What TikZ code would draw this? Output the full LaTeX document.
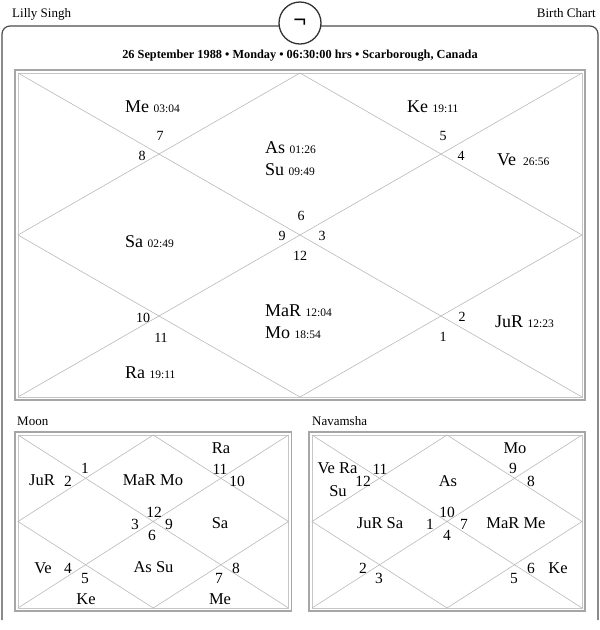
\documentclass[tikz,border=0pt]{standalone}
\usepackage{fontspec}
\setmainfont{Liberation Serif}
\usetikzlibrary{positioning}
\tikzset{
    kundli/.style={x=1pt,y=-1pt},
    frame/.style={draw=black!70, line width=1.2pt, rounded corners=8pt},
    boxout/.style={draw=gray!70, line width=1.2pt},
    boxin/.style={draw=gray!45, line width=0.8pt},
    grid/.style={draw=gray!55, line width=0.6pt},
    planet/.style={inner sep=0pt, anchor=west, align=left, font=\fontsize{18}{22}\selectfont},
    house/.style={inner sep=0pt, font=\fontsize{14}{14}\selectfont},
    splanet/.style={inner sep=0pt, font=\fontsize{16.5}{18}\selectfont},
    shouse/.style={inner sep=0pt, font=\fontsize{15.5}{16}\selectfont},
    caption/.style={inner sep=0pt, font=\fontsize{13}{13}\selectfont},
    }
\newcommand{\degtxt}[1]{{\fontsize{11.5}{11.5}\selectfont #1}}

\begin{document}
\begin{tikzpicture}[kundli]
    \useasboundingbox (0,0) rectangle (600,630);

    % outer frame and logo
    \draw[frame] (2,620) -- (2,26) -- (598,26) -- (598,620);
    \node[circle, draw=black!80, line width=1.3pt, fill=white, minimum size=42pt, inner sep=0pt] (logo) at (300,23) {\fontsize{23}{23}\selectfont\bfseries ¬};
    \node[caption, anchor=base west] (name) at (12,17.5) {Lilly Singh};
    \node[caption, anchor=base east] (title) at (596,17.5) {Birth Chart};
    \node[inner sep=0pt, anchor=base, font=\bfseries\fontsize{12.3}{13}\selectfont] (date) at (300,58) {26 September 1988 • Monday • 06:30:00 hrs • Scarborough, Canada};
    \node[caption, anchor=base west] (moon) at (17,425) {Moon};
    \node[caption, anchor=base west] (navamsha) at (312,425) {Navamsha};

    % the three charts
    \foreach \xa/\ya/\xb/\yb/\nm in {18/73/582/397/main, 18/435/288.5/608/mo, 312/435/582/608/nav} {
        \draw[boxout] (\xa-3,\ya-3) rectangle (\xb+3,\yb+3);
        \draw[boxin] (\xa,\ya) rectangle (\xb,\yb);
        \coordinate (\nm-nw) at (\xa,\ya);
        \coordinate (\nm-ne) at (\xb,\ya);
        \coordinate (\nm-se) at (\xb,\yb);
        \coordinate (\nm-sw) at (\xa,\yb);
        \coordinate (\nm-n) at ({(\xa+\xb)/2},\ya);
        \coordinate (\nm-s) at ({(\xa+\xb)/2},\yb);
        \coordinate (\nm-w) at (\xa,{(\ya+\yb)/2});
        \coordinate (\nm-e) at (\xb,{(\ya+\yb)/2});
        \draw[grid] (\nm-nw) -- (\nm-se) (\nm-ne) -- (\nm-sw);
        \draw[grid] (\nm-n) -- (\nm-e) -- (\nm-s) -- (\nm-w) -- cycle;
    }

    % birth chart
    \node[planet] (me) at (125,107) {Me \degtxt{03:04}};
    \node[planet] (ke) at (407,107) {Ke \degtxt{19:11}};
    \node[planet] (assu) at (265,159) {As \degtxt{01:26}\\Su \degtxt{09:49}};
    \node[planet] (ve) at (497,160) {Ve\hspace{7pt}\degtxt{26:56}};
    \node[planet] (sa) at (125,242) {Sa \degtxt{02:49}};
    \node[planet] (mamo) at (265,321.5) {MaR \degtxt{12:04}\\Mo \degtxt{18:54}};
    \node[planet] (ju) at (495,322) {JuR \degtxt{12:23}};
    \node[planet] (ra) at (125,373) {Ra \degtxt{19:11}};
    \foreach \h/\x/\y in {7/160/136, 8/142/156, 5/443/136, 4/461/156, 6/301/216, 9/282/236,
                          3/322/236, 12/300/256, 10/143/318, 11/161/338, 2/462/317, 1/443/337}
        \node[house] (m\h) at (\x,\y) {\h};

    % moon chart
    \node[splanet] (mo-ju) at (42,480) {JuR};
    \node[splanet] (mo-mamo) at (153,480) {MaR Mo};
    \node[splanet] (mo-ra) at (221,448) {Ra};
    \node[splanet] (mo-sa) at (220,523) {Sa};
    \node[splanet] (mo-ve) at (43,568) {Ve};
    \node[splanet] (mo-assu) at (153.5,567) {As Su};
    \node[splanet] (mo-ke) at (86,599) {Ke};
    \node[splanet] (mo-me) at (220,599) {Me};
    \foreach \h/\x/\y in {1/85/468, 2/68/481, 11/220/469, 10/237/481, 12/154/512, 3/135/524,
                          9/169/524, 6/152/535, 4/68/568, 5/85/578, 7/219/578, 8/236/568}
        \node[shouse] (mo\h) at (\x,\y) {\h};

    % navamsha chart
    \node[splanet] (nav-vera) at (337.5,468) {Ve Ra};
    \node[splanet] (nav-su) at (338,491) {Su};
    \node[splanet] (nav-as) at (448,481) {As};
    \node[splanet] (nav-mo) at (515,448) {Mo};
    \node[splanet] (nav-jusa) at (380,523) {JuR Sa};
    \node[splanet] (nav-mame) at (516,523) {MaR Me};
    \node[splanet] (nav-ke) at (558,568) {Ke};
    \foreach \h/\x/\y in {12/363/481, 11/380/469, 9/513/468, 8/531/481, 10/447/512, 1/430/524,
                          7/464/524, 4/447/535, 2/363/568, 3/379/578, 5/514/578, 6/531/568}
        \node[shouse] (nav\h) at (\x,\y) {\h};
\end{tikzpicture}
\end{document}
